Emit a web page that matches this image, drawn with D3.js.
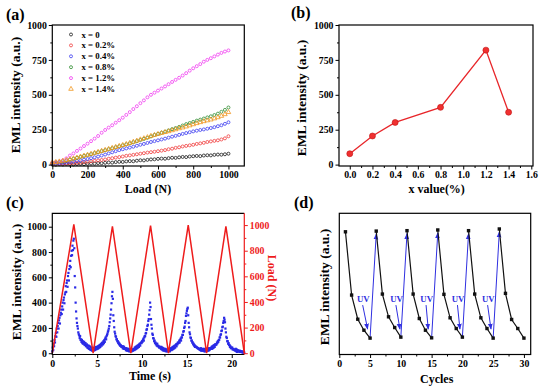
<!DOCTYPE html>
<html>
<head>
<meta charset="utf-8">
<script src="https://cdn.jsdelivr.net/npm/d3@7.9.0/dist/d3.min.js"></script>
<style>
  body { margin: 0; background: #fff; }
  svg { display: block; }
</style>
</head>
<body>
<svg id="chart" width="539" height="387"></svg>
<script>
// ---- panel (a): EML vs load for each doping level ----
const loadN = [0, 20, 40, 60, 80, 100, 120, 140, 160, 180, 200, 220, 240, 260, 280, 300, 320, 340, 360, 380,
  400, 420, 440, 460, 480, 500, 520, 540, 560, 580, 600, 620, 640, 660, 680, 700, 720, 740, 760, 780,
  800, 820, 840, 860, 880, 900, 920, 940, 960, 980, 1000];

const eml_x0 = [2, 0, 3, 1, 4, 2, 1, 4, 5, 3, 6, 8, 7, 11, 10, 13, 15, 14, 18, 20,
  19, 23, 25, 24, 28, 31, 30, 34, 37, 38, 41, 43, 42, 46, 49, 48, 52, 55, 54, 58,
  60, 62, 61, 65, 67, 66, 70, 72, 71, 74, 78];
const eml_x02 = [5, 3, 6, 5, 8, 9, 11, 13, 15, 18, 20, 24, 27, 30, 33, 37, 42, 46, 50, 54,
  58, 63, 66, 70, 74, 78, 82, 86, 89, 92, 96, 100, 104, 110, 114, 120, 124, 130, 134, 138,
  142, 148, 152, 156, 162, 166, 170, 174, 180, 188, 203];
const eml_x04 = [6, 8, 9, 12, 15, 18, 22, 26, 30, 35, 40, 46, 52, 58, 65, 72, 80, 88, 96, 104,
  110, 116, 122, 128, 135, 142, 148, 155, 162, 168, 174, 180, 186, 193, 200, 206, 213, 220, 226, 232,
  238, 243, 248, 252, 257, 262, 268, 275, 282, 292, 303];
const eml_x08 = [12, 15, 19, 24, 30, 36, 42, 48, 55, 62, 68, 75, 82, 89, 96, 103, 110, 117, 124, 131,
  138, 145, 152, 160, 168, 176, 184, 192, 202, 212, 220, 228, 236, 245, 254, 262, 270, 280, 290, 298,
  306, 315, 322, 330, 338, 346, 355, 365, 378, 392, 409];
const eml_x12 = [15, 18, 22, 30, 45, 65, 80, 98, 115, 133, 150, 168, 186, 205, 228, 248, 265, 282, 300, 318,
  336, 356, 376, 398, 418, 440, 460, 482, 500, 515, 530, 545, 560, 576, 592, 607, 622, 638, 655, 673,
  690, 705, 720, 737, 750, 762, 775, 788, 800, 810, 818];
const eml_x14 = [15, 18, 22, 27, 32, 38, 44, 50, 57, 64, 70, 77, 84, 91, 98, 105, 112, 119, 126, 133,
  140, 147, 155, 163, 171, 180, 188, 196, 205, 212, 219, 226, 232, 238, 245, 252, 259, 265, 272, 280,
  288, 296, 303, 310, 316, 322, 330, 338, 348, 360, 375];

const seriesLabels = ['x = 0', 'x = 0.2%', 'x = 0.4%', 'x = 0.8%', 'x = 1.2%', 'x = 1.4%'];
const seriesColors = ['#1a1a1a', '#f03c3c', '#3c3cf0', '#2e8b2e', '#f03cf0', '#f0961e'];

// ---- panel (b): peak EML vs doping ----
const dopingX = [0.0, 0.2, 0.4, 0.8, 1.2, 1.4];
const peakEml = [78, 205, 302, 410, 820, 375];

// ---- panel (c): EML and load vs time ----
const loadTime = [0, 2.4, 4.55, 6.7, 8.75, 10.95, 12.95, 15.15, 17.2, 19.35, 21.4];
const loadForce = [0, 1005, 0, 990, 0, 995, 0, 1000, 0, 990, 0];
const emlStep = 0.05; // sampling interval (s)
const emlValue = [
  15, 45, 25, 75, 55, 105, 85, 135, 160, 130, 195, 165, 215, 240, 195, 260, 280, 235, 300, 320,
  345, 310, 370, 400, 345, 420, 440, 395, 465, 480, 530, 485, 555, 575, 525, 610, 635, 575, 665, 690,
  730, 680, 770, 810, 775, 850, 815, 890, 905, 830, 610, 520, 400, 330, 275, 240, 215, 195, 165, 150,
  140, 120, 135, 105, 110, 90, 105, 80, 95, 75, 80, 90, 65, 70, 80, 55, 60, 70, 45, 60,
  40, 60, 35, 55, 30, 50, 25, 45, 35, 20, 35, 40, 20, 35, 45, 25, 40, 50, 30, 45,
  50, 35, 55, 40, 60, 45, 65, 50, 70, 75, 60, 80, 85, 70, 95, 80, 105, 90, 115, 125,
  110, 135, 145, 155, 170, 180, 195, 215, 245, 275, 305, 345, 395, 450, 485, 430, 300, 255, 205, 170,
  155, 135, 130, 110, 110, 95, 95, 80, 85, 70, 75, 60, 65, 60, 50, 55, 50, 40, 55, 35,
  50, 35, 40, 35, 25, 40, 20, 35, 30, 20, 35, 15, 30, 25, 15, 30, 25, 15, 30, 25,
  20, 35, 30, 25, 45, 30, 50, 35, 55, 40, 60, 45, 65, 50, 70, 75, 60, 80, 85, 80,
  95, 90, 105, 115, 100, 125, 135, 135, 155, 160, 185, 190, 215, 225, 255, 270, 305, 340, 400, 365,
  270, 225, 195, 155, 145, 120, 115, 95, 100, 80, 85, 70, 75, 60, 75, 55, 60, 55, 45, 50,
  45, 50, 35, 50, 30, 45, 25, 40, 20, 35, 30, 20, 35, 15, 30, 25, 15, 30, 15, 25,
  20, 35, 15, 35, 25, 40, 25, 45, 30, 50, 35, 55, 40, 60, 45, 65, 70, 55, 75, 70,
  85, 80, 85, 100, 85, 105, 115, 100, 125, 125, 145, 145, 170, 175, 200, 210, 240, 255, 295, 315,
  335, 350, 360, 300, 240, 205, 165, 150, 125, 120, 100, 100, 85, 85, 70, 75, 60, 65, 50, 55,
  50, 50, 45, 45, 40, 40, 35, 35, 30, 30, 25, 40, 20, 25, 35, 20, 25, 20, 35, 15,
  30, 15, 30, 20, 35, 20, 25, 35, 20, 40, 25, 30, 40, 35, 40, 50, 35, 55, 40, 60,
  45, 65, 50, 70, 65, 70, 70, 85, 80, 95, 90, 105, 105, 125, 125, 145, 150, 175, 180, 205,
  210, 240, 255, 280, 265, 245, 195, 165, 130, 120, 95, 95, 75, 80, 65, 65, 50, 55, 40, 45,
  40, 45, 30, 35, 30, 30, 25, 25, 20, 35, 15, 30, 10, 25, 20, 20, 15, 10, 20, 15,
  10, 15, 10, 15, 5, 10, 5, 10, 5
];

// ---- panel (d): EML over repeated cycles with UV recovery ----
const cycles = [1, 2, 3, 4, 5, 6, 7, 8, 9, 10, 11, 12, 13, 14, 15, 16, 17, 18, 19, 20,
  21, 22, 23, 24, 25, 26, 27, 28, 29, 30];
const cycleEml = [86.9, 42.1, 25.0, 17.2, 11.6, 87.4, 42.8, 26.7, 19.1, 12.3,
  87.7, 42.8, 25.5, 17.2, 11.8, 88.2, 42.6, 26.0, 18.4, 12.3,
  87.7, 42.8, 26.0, 18.4, 11.6, 88.9, 43.3, 24.8, 18.4, 11.6];
const uvLabelX = [3.9, 9.3, 14.2, 19.3, 24.2];
const uvArrowEndX = [4.6, 9.85, 14.45, 19.6, 24.65];

const FONT = "'Liberation Serif', 'Times New Roman', serif";
const svg = d3.select('#chart')
  .style('font-family', FONT)
  .style('font-weight', 'bold');

svg.append('defs').append('marker')
  .attr('id', 'arrow-blue')
  .attr('viewBox', '0 0 10 10')
  .attr('refX', 9).attr('refY', 5)
  .attr('markerWidth', 6).attr('markerHeight', 6)
  .attr('markerUnits', 'userSpaceOnUse')
  .attr('orient', 'auto')
  .append('path')
  .attr('d', 'M0,1 L10,5 L0,9 Z')
  .attr('fill', '#2f2fe0');

// helper: style an axis group
function styleAxis(g, color) {
  g.attr('font-family', null).attr('font-size', null)
    .style('font-family', FONT).style('font-size', '9.8px');
  g.select('.domain').remove();
  g.selectAll('line').attr('stroke', color).attr('stroke-width', 1);
  g.selectAll('text').attr('fill', color);
}

function addAxis(g, axisFn, scale, pos, major, minor, fmt, color = '#000') {
  const tr = (axisFn === d3.axisBottom) ? `translate(0,${pos})` : `translate(${pos},0)`;
  if (minor.length) {
    g.append('g').attr('transform', tr)
      .call(axisFn(scale).tickValues(minor).tickSize(2).tickFormat(''))
      .call(a => styleAxis(a, color));
  }
  g.append('g').attr('transform', tr)
    .call(axisFn(scale).tickValues(major).tickSize(3.5).tickPadding(2).tickFormat(fmt))
    .call(a => styleAxis(a, color));
}

function frame(g, box) {
  g.append('rect')
    .attr('x', box.l).attr('y', box.t)
    .attr('width', box.r - box.l).attr('height', box.b - box.t)
    .attr('fill', 'none').attr('stroke', '#000').attr('stroke-width', 1.2);
}

function title(g, text, x, y, rot, size, color = '#000') {
  g.append('text')
    .attr('transform', `translate(${x},${y}) rotate(${rot})`)
    .attr('text-anchor', 'middle')
    .attr('dy', rot ? '0.35em' : 0)
    .style('font-size', size + 'px').attr('fill', color)
    .text(text);
}

function panelLabel(text, x, y) {
  svg.append('text').attr('x', x).attr('y', y)
    .style('font-size', '16px')
    .text(text);
}

// ================= (a) =================
function drawA() {
  const box = { l: 52.3, r: 244.3, t: 25, b: 166 };
  const g = svg.append('g');
  const x = d3.scaleLinear().domain([0, 1090]).range([box.l, box.r]);
  const y = d3.scaleLinear().domain([-10, 1000]).range([box.b, box.t]);

  const series = [eml_x0, eml_x02, eml_x04, eml_x08, eml_x12, eml_x14];
  const tri = d3.symbol().type(d3.symbolTriangle).size(9);

  series.forEach((vals, i) => {
    const sg = g.append('g');
    const pts = vals.map((v, j) => [loadN[j], v]);
    if (i === 5) {
      sg.selectAll('path').data(pts).join('path')
        .attr('d', tri)
        .attr('transform', d => `translate(${x(d[0])},${y(d[1])})`)
        .attr('fill', 'none').attr('stroke', seriesColors[i]).attr('stroke-width', 0.8);
    } else {
      sg.selectAll('circle').data(pts).join('circle')
        .attr('cx', d => x(d[0])).attr('cy', d => y(d[1])).attr('r', 1.5)
        .attr('fill', 'none').attr('stroke', seriesColors[i]).attr('stroke-width', 0.8);
    }
  });

  addAxis(g, d3.axisBottom, x, box.b, [0, 200, 400, 600, 800, 1000], [100, 300, 500, 700, 900], d3.format('d'));
  addAxis(g, d3.axisLeft, y, box.l, [0, 250, 500, 750, 1000], [125, 375, 625, 875], d3.format('d'));
  frame(g, box);

  // legend
  const leg = g.append('g');
  seriesLabels.forEach((lab, i) => {
    const ly = 34.5 + i * 10.9;
    if (i === 5) {
      leg.append('path').attr('d', tri).attr('transform', `translate(71,${ly})`)
        .attr('fill', 'none').attr('stroke', seriesColors[i]).attr('stroke-width', 0.8);
    } else {
      leg.append('circle').attr('cx', 71).attr('cy', ly).attr('r', 1.5)
        .attr('fill', 'none').attr('stroke', seriesColors[i]).attr('stroke-width', 0.8);
    }
    leg.append('text').attr('x', 81.5).attr('y', ly + 3)
      .style('font-size', '8.8px')
      .text(lab);
  });

  title(g, 'Load (N)', 148, 193, 0, 12);
  title(g, 'EML intensity (a.u.)', 15, 95, -90, 13.5);
  panelLabel('(a)', 6, 20);
}

// ================= (b) =================
function drawB() {
  const box = { l: 339, r: 533, t: 25, b: 166 };
  const g = svg.append('g');
  const x = d3.scaleLinear().domain([-0.095, 1.615]).range([box.l, box.r]);
  const y = d3.scaleLinear().domain([-10, 1000]).range([box.b, box.t]);

  addAxis(g, d3.axisBottom, x, box.b, [0, 0.2, 0.4, 0.6, 0.8, 1.0, 1.2, 1.4, 1.6],
    [0.1, 0.3, 0.5, 0.7, 0.9, 1.1, 1.3, 1.5], d3.format('.1f'));
  addAxis(g, d3.axisLeft, y, box.l, [0, 250, 500, 750, 1000], [125, 375, 625, 875], d3.format('d'));
  frame(g, box);

  const line = d3.line().x((d, i) => x(dopingX[i])).y(d => y(d));
  g.append('path').datum(peakEml).attr('d', line)
    .attr('fill', 'none').attr('stroke', '#e8262a').attr('stroke-width', 1.3);
  g.selectAll('circle.pt').data(peakEml).join('circle').attr('class', 'pt')
    .attr('cx', (d, i) => x(dopingX[i])).attr('cy', d => y(d)).attr('r', 3)
    .attr('fill', '#f03030').attr('stroke', '#c01010').attr('stroke-width', 0.6);

  title(g, 'x value(%)', 436.7, 193, 0, 12);
  title(g, 'EML intensity (a.u.)', 301, 98, -90, 13.5);
  panelLabel('(b)', 291, 18);
}

// ================= (c) =================
function drawC() {
  const box = { l: 52.3, r: 244.3, t: 213.3, b: 354.5 };
  const g = svg.append('g');
  const x = d3.scaleLinear().domain([0, 21.4]).range([box.l, box.r]);
  const yL = d3.scaleLinear().domain([-10, 1106]).range([box.b, box.t]);
  const yR = d3.scaleLinear().domain([-10, 1092]).range([box.b, box.t]);

  g.append('g').selectAll('rect').data(emlValue).join('rect')
    .attr('x', (d, i) => x(i * emlStep) - 1.1)
    .attr('y', d => yL(d) - 1.1)
    .attr('width', 2.2).attr('height', 2.2)
    .attr('fill', '#2a2ae6');

  const line = d3.line().x((d, i) => x(loadTime[i])).y(d => yR(d));
  g.append('path').datum(loadForce).attr('d', line)
    .attr('fill', 'none').attr('stroke', '#ee1c1c').attr('stroke-width', 1.5);

  addAxis(g, d3.axisBottom, x, box.b, [0, 5, 10, 15, 20], [2.5, 7.5, 12.5, 17.5], d3.format('d'));
  addAxis(g, d3.axisLeft, yL, box.l, [0, 200, 400, 600, 800, 1000], [100, 300, 500, 700, 900], d3.format('d'));
  addAxis(g, d3.axisRight, yR, box.r, [0, 200, 400, 600, 800, 1000], [100, 300, 500, 700, 900], d3.format('d'), '#ee1c1c');

  g.append('path')
    .attr('d', `M${box.r},${box.b} L${box.l},${box.b} L${box.l},${box.t} L${box.r},${box.t}`)
    .attr('fill', 'none').attr('stroke', '#000').attr('stroke-width', 1.2);
  g.append('line').attr('x1', box.r).attr('x2', box.r).attr('y1', box.t).attr('y2', box.b)
    .attr('stroke', '#ee1c1c').attr('stroke-width', 1.2);

  title(g, 'Time (s)', 150, 380, 0, 12);
  title(g, 'EML intensity (a.u.)', 16, 282, -90, 13.5);
  title(g, 'Load (N)', 272, 278, 90, 12, '#ee1c1c');
  panelLabel('(c)', 6, 208);
}

// ================= (d) =================
function drawD() {
  const box = { l: 339.3, r: 530.7, t: 213.3, b: 354.5 };
  const g = svg.append('g');
  const x = d3.scaleLinear().domain([0, 31.1]).range([box.l, box.r]);
  const y = d3.scaleLinear().domain([0, 100]).range([box.b, box.t]);

  addAxis(g, d3.axisBottom, x, box.b, [0, 5, 10, 15, 20, 25, 30],
    [2.5, 7.5, 12.5, 17.5, 22.5, 27.5], d3.format('d'));
  frame(g, box);

  const blue = '#2f2fe0';
  // UV recovery steps (blue), last point of each group to first of the next
  for (let k = 4; k < cycles.length - 1; k += 5) {
    g.append('line')
      .attr('x1', x(cycles[k])).attr('y1', y(cycleEml[k]))
      .attr('x2', x(cycles[k + 1])).attr('y2', y(cycleEml[k + 1]) + 3)
      .attr('stroke', blue).attr('stroke-width', 1)
      .attr('marker-end', 'url(#arrow-blue)');
  }

  // decay groups (black)
  const line = d3.line().x(d => x(d[0])).y(d => y(d[1]));
  for (let s = 0; s < cycles.length; s += 5) {
    const pts = cycles.slice(s, s + 5).map((c, j) => [c, cycleEml[s + j]]);
    g.append('path').datum(pts).attr('d', line)
      .attr('fill', 'none').attr('stroke', '#111').attr('stroke-width', 1.2);
  }
  g.selectAll('rect.pt').data(cycleEml).join('rect').attr('class', 'pt')
    .attr('x', (d, i) => x(cycles[i]) - 1.7).attr('y', d => y(d) - 1.7)
    .attr('width', 3.4).attr('height', 3.4).attr('fill', '#111');

  // UV annotations
  uvLabelX.forEach((ux, i) => {
    g.append('text').attr('x', x(ux)).attr('y', y(37.5))
      .attr('text-anchor', 'middle')
      .style('font-size', '8.8px')
      .attr('fill', blue).text('UV');
    g.append('line')
      .attr('x1', x(ux - 0.1)).attr('y1', y(35))
      .attr('x2', x(uvArrowEndX[i])).attr('y2', y(18))
      .attr('stroke', blue).attr('stroke-width', 1)
      .attr('marker-end', 'url(#arrow-blue)');
  });

  title(g, 'Cycles', 436.7, 383, 0, 12);
  title(g, 'EML intensity (a.u.)', 324, 287, -90, 13.5);
  panelLabel('(d)', 294, 208);
}

drawA();
drawB();
drawC();
drawD();
</script>
</body>
</html>
